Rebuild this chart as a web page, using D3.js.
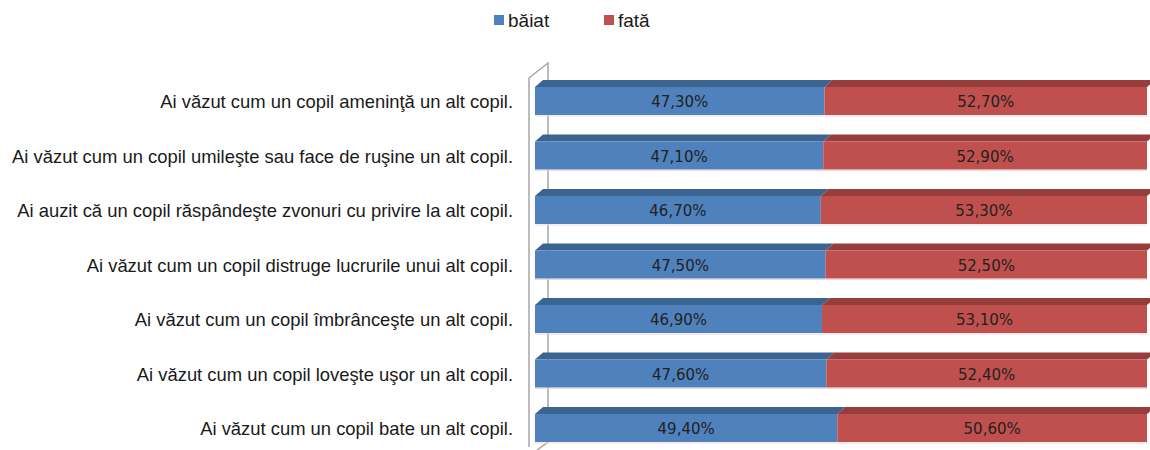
<!DOCTYPE html>
<html><head><meta charset="utf-8">
<script src="https://cdn.jsdelivr.net/npm/d3@7"></script>
<style>body{margin:0;background:#fff}svg{display:block}</style>
</head><body>
<svg id="c" width="1150" height="450"></svg>
<script>
const categories = [
  "Ai văzut cum un copil ameninţă un alt copil.",
  "Ai văzut cum un copil umileşte sau face de ruşine un alt copil.",
  "Ai auzit că un copil răspândeşte zvonuri cu privire la alt copil.",
  "Ai văzut cum un copil distruge lucrurile unui alt copil.",
  "Ai văzut cum un copil îmbrânceşte un alt copil.",
  "Ai văzut cum un copil loveşte uşor un alt copil.",
  "Ai văzut cum un copil bate un alt copil."
];
const seriesNames = ["băiat", "fată"];
const baiat = [47.3, 47.1, 46.7, 47.5, 46.9, 47.6, 49.4];
const fata  = [52.7, 52.9, 53.3, 52.5, 53.1, 52.4, 50.6];

const front = ["#4f81bd", "#c0504d"];
const topC  = ["#3b6491", "#973d3b"];

const svg = d3.select("#c");
const x = d3.scaleLinear().domain([0, 100]).range([535, 1147]);
const y = d3.scalePoint().domain(categories).range([101, 428]);
const bh = 28, dx = 8, dy = -7;
const fmt = v => d3.format(".2f")(v).replace(".", ",") + "%";

// wall
const wall = svg.append("g").attr("stroke", "#a6a6a6").attr("stroke-width", 1.5).attr("fill", "none");
wall.append("path").attr("d", d3.line()([[529, 447], [529, 78], [548, 63], [548, 442], [537, 450]]));

const rows = categories.map((c, i) => ({c, vals: [baiat[i], fata[i]]}));
const g = svg.append("g");
rows.forEach(r => {
  let acc = 0;
  r.vals.forEach((v, k) => {
    const x0 = x(acc), x1 = x(acc + v);
    const yt = y(r.c) - bh / 2;
    g.append("path")
      .attr("d", d3.line()([[x0, yt], [x0 + dx, yt + dy], [x1 + dx, yt + dy], [x1, yt]]) + "Z")
      .attr("fill", topC[k]);
    g.append("rect").attr("x", x0).attr("y", yt).attr("width", x1 - x0).attr("height", bh)
      .attr("fill", front[k]);
    g.append("text").attr("x", (x0 + x1) / 2).attr("y", y(r.c) + 6)
      .attr("text-anchor", "middle").attr("font-family", "'DejaVu Sans', sans-serif")
      .attr("font-size", 15).attr("fill", "#222").text(fmt(v));
    acc += v;
  });
  g.append("line").attr("x1", x(0)).attr("x2", x(100)).attr("y1", y(r.c) + bh / 2 + 1).attr("y2", y(r.c) + bh / 2 + 1)
    .attr("stroke", "#f0d8d8").attr("stroke-width", 1);
});

// category labels
svg.append("g").selectAll("text").data(categories).join("text")
  .attr("x", 513).attr("y", d => y(d) + 7).attr("text-anchor", "end")
  .attr("font-family", "'Liberation Sans', Arial, sans-serif").attr("font-size", 18.4)
  .attr("fill", "#1a1a1a").text(d => d);

// legend
const lg = svg.append("g");
const lx = [494, 604];
seriesNames.forEach((s, k) => {
  lg.append("rect").attr("x", lx[k]).attr("y", 15).attr("width", 10).attr("height", 10).attr("fill", front[k]);
  lg.append("text").attr("x", lx[k] + 14).attr("y", 27).attr("font-family", "'Liberation Sans', Arial, sans-serif")
    .attr("font-size", 19).attr("fill", "#1a1a1a").text(s);
});
</script>
</body></html>
